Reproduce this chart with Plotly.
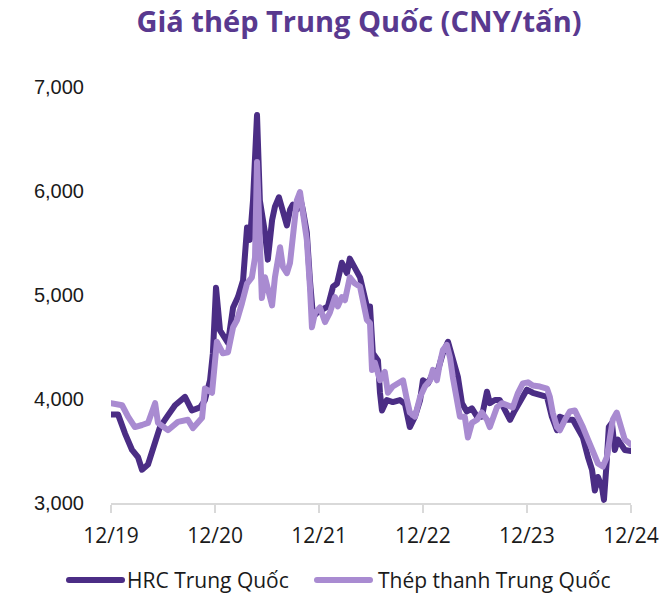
import plotly.graph_objects as go

hrc_dates = ["2019-12-01","2019-12-26","2020-01-19","2020-02-13","2020-03-05","2020-03-19","2020-04-09","2020-05-04","2020-05-21","2020-06-15","2020-07-13","2020-08-17","2020-09-10","2020-10-09","2020-10-26","2020-11-13","2020-11-23","2020-12-04","2020-12-18","2021-01-01","2021-01-15","2021-02-02","2021-02-19","2021-03-09","2021-03-23","2021-04-02","2021-04-13","2021-04-27","2021-05-07","2021-05-25","2021-06-04","2021-06-19","2021-06-29","2021-07-13","2021-07-27","2021-08-10","2021-08-21","2021-08-31","2021-09-14","2021-09-25","2021-10-05","2021-10-19","2021-10-30","2021-11-10","2021-11-24","2021-12-15","2022-01-01","2022-01-19","2022-02-02","2022-02-19","2022-03-09","2022-03-19","2022-04-06","2022-04-24","2022-05-18","2022-05-29","2022-06-08","2022-06-26","2022-07-03","2022-07-10","2022-07-27","2022-08-17","2022-09-11","2022-09-29","2022-10-16","2022-11-03","2022-11-21","2022-12-01","2022-12-19","2023-01-05","2023-01-23","2023-02-09","2023-02-27","2023-03-13","2023-03-23","2023-04-03","2023-04-17","2023-05-04","2023-05-22","2023-06-09","2023-06-26","2023-07-14","2023-07-24","2023-08-11","2023-08-28","2023-09-15","2023-10-03","2023-10-20","2023-11-14","2023-12-01","2023-12-22","2024-01-16","2024-02-10","2024-02-27","2024-03-16","2024-03-26","2024-04-06","2024-04-23","2024-05-11","2024-05-28","2024-06-15","2024-07-03","2024-07-17","2024-07-27","2024-08-07","2024-08-21","2024-08-28","2024-09-07","2024-09-14","2024-09-25","2024-10-05","2024-10-16","2024-10-30","2024-11-09","2024-12-01"]
hrc_values = [3850,3850,3670,3510,3440,3320,3370,3600,3730,3830,3940,4020,3890,3920,3990,4180,4440,5070,4660,4600,4540,4880,4980,5140,5650,5530,5910,6730,5910,5600,5340,5720,5850,5940,5790,5670,5820,5870,5820,5940,5820,5600,5140,4790,4830,4860,4890,5080,5110,5310,5210,5350,5270,5170,4890,4890,4440,4370,4060,3890,3990,3970,3990,3950,3730,3830,3990,4180,4150,4250,4280,4440,4550,4400,4310,4210,3960,3880,3910,3830,3830,4070,3960,3990,3990,3890,3800,3890,4020,4090,4060,4040,4020,3830,3700,3830,3820,3800,3800,3730,3630,3440,3320,3120,3250,3150,3030,3410,3730,3770,3510,3610,3540,3510,3500]

bar_dates = ["2019-12-01","2019-12-26","2020-01-09","2020-01-30","2020-02-23","2020-03-19","2020-04-09","2020-05-04","2020-05-14","2020-06-18","2020-07-23","2020-08-27","2020-09-14","2020-10-16","2020-10-26","2020-11-20","2020-12-07","2020-12-28","2021-01-15","2021-02-02","2021-02-16","2021-03-05","2021-03-23","2021-04-09","2021-04-20","2021-04-27","2021-05-07","2021-05-14","2021-05-25","2021-06-04","2021-06-19","2021-06-29","2021-07-10","2021-07-17","2021-07-27","2021-08-10","2021-08-21","2021-08-31","2021-09-14","2021-09-25","2021-10-05","2021-10-19","2021-10-30","2021-11-06","2021-11-17","2021-12-04","2021-12-22","2022-01-08","2022-01-26","2022-02-05","2022-02-19","2022-03-02","2022-03-19","2022-04-06","2022-04-24","2022-05-04","2022-05-18","2022-05-29","2022-06-05","2022-06-15","2022-07-03","2022-07-20","2022-07-31","2022-08-17","2022-09-04","2022-09-22","2022-10-06","2022-10-16","2022-11-03","2022-11-21","2022-12-08","2022-12-26","2023-01-05","2023-01-19","2023-01-30","2023-02-09","2023-02-23","2023-03-06","2023-03-16","2023-03-30","2023-04-10","2023-04-27","2023-05-08","2023-05-22","2023-06-09","2023-06-26","2023-07-14","2023-07-24","2023-08-04","2023-08-18","2023-09-04","2023-09-22","2023-10-13","2023-10-31","2023-11-17","2023-12-05","2023-12-22","2024-01-16","2024-02-10","2024-02-20","2024-03-01","2024-03-16","2024-03-26","2024-04-13","2024-04-30","2024-05-18","2024-06-04","2024-06-15","2024-07-03","2024-07-20","2024-08-07","2024-08-24","2024-09-07","2024-09-18","2024-09-28","2024-10-12","2024-10-23","2024-11-09","2024-12-01"]
bar_values = [3960,3940,3940,3830,3730,3750,3770,3960,3770,3700,3780,3800,3720,3820,4100,4060,4550,4440,4450,4690,4760,4920,5110,5170,5360,6280,5530,4970,5170,5080,4900,5170,5400,5460,5270,5210,5310,5620,5910,5990,5820,5530,5080,4690,4830,4880,4740,4830,4980,4890,4980,4950,5170,5110,5080,4920,4760,4730,4280,4350,4180,4260,4060,4120,4150,4180,3990,3870,3830,4020,4120,4180,4280,4180,4350,4470,4520,4400,4210,4020,3830,3830,3630,3770,3800,3870,3800,3730,3800,3920,3960,3940,3920,4060,4150,4160,4130,4120,4100,4020,3870,3730,3700,3800,3880,3890,3770,3730,3610,3480,3380,3350,3440,3630,3800,3870,3770,3610,3560]

tick_dates = ["2019-12-01","2020-12-01","2021-12-01","2022-12-01","2023-12-01","2024-12-01"]
tick_labels = ["12/19","12/20","12/21","12/22","12/23","12/24"]
y_ticks = [3000, 4000, 5000, 6000, 7000]
series_names = ["HRC Trung Quốc", "Thép thanh Trung Quốc"]

DARK = "#4B2D85"
LIGHT = "#A98BD1"
FONT = "Open Sans"
W, H = 664, 596
ML, MR, MT, MB = 111, 33, 87, 93
PW, PH = W - ML - MR, H - MT - MB

def px_x(p):
    return (p - ML) / PW

def px_y(p):
    return (H - MB - p) / PH

fig = go.Figure()
fig.add_trace(go.Scatter(x=hrc_dates, y=hrc_values, mode="lines", name=series_names[0],
                         line=dict(color=DARK, width=6)))
fig.add_trace(go.Scatter(x=bar_dates, y=bar_values, mode="lines", name=series_names[1],
                         line=dict(color=LIGHT, width=6)))

# custom legend (longer line samples as in the reference)
legend_y = px_y(580)
for (x0, x1, tx), color, name in zip([(69, 122, 125), (317, 370, 376)], [DARK, LIGHT], series_names):
    fig.add_shape(type="line", xref="paper", yref="paper", x0=px_x(x0), x1=px_x(x1),
                  y0=legend_y, y1=legend_y, line=dict(color=color, width=6))
    fig.add_annotation(text=name, xref="paper", yref="paper", x=px_x(tx), y=legend_y,
                       xanchor="left", yanchor="middle", showarrow=False,
                       font=dict(family=FONT, size=21, color="#1a1a1a"))

fig.update_layout(
    width=W, height=H,
    margin=dict(l=ML, r=MR, t=MT, b=MB, autoexpand=False),
    paper_bgcolor="white", plot_bgcolor="white",
    title=dict(text="<b>Giá thép Trung Quốc (CNY/tấn)</b>", x=359/664, xanchor="center",
               xref="container", yref="container", y=1 - 22/596, yanchor="middle",
               font=dict(family=FONT, size=29, color="#59398F")),
    font=dict(family=FONT, size=18, color="#1a1a1a"),
    showlegend=False,
    xaxis=dict(range=["2019-12-01", "2024-12-01"], tickvals=tick_dates, ticktext=tick_labels,
               showgrid=False, showline=True, linecolor="#D9D9D9", linewidth=2,
               ticks="outside", ticklen=8, tickcolor="#D9D9D9", tickwidth=2,
               ticklabelstandoff=5, zeroline=False, automargin=False,
               tickfont=dict(family=FONT, size=21, color="#1a1a1a")),
    yaxis=dict(range=[3000, 7000], tickvals=y_ticks, tickformat=",d", showgrid=False,
               showline=False, zeroline=False, ticks="", ticklabelstandoff=26, automargin=False,
               tickfont=dict(family="Liberation Sans", size=20, color="#1a1a1a")),
)

post = (
    "document.body.style.margin='0';document.body.style.padding='0';"
    "var s=document.createElement('style');"
    "s.textContent='.js-line{stroke-linejoin:round;stroke-linecap:round;}"
    " .shapelayer path{stroke-linecap:round;}';"
    "document.head.appendChild(s);"
)
fig.write_html("out.html", config={"displayModeBar": False}, post_script=post)
